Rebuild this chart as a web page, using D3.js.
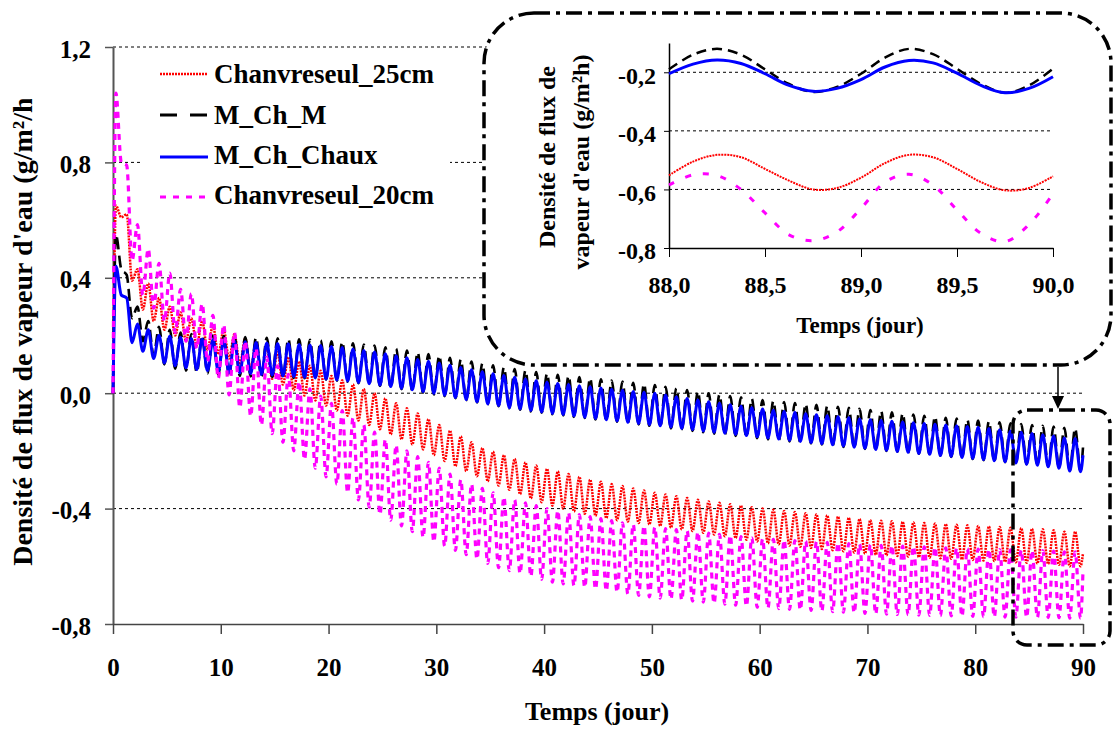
<!DOCTYPE html>
<html><head><meta charset="utf-8">
<script src="https://cdn.jsdelivr.net/npm/d3@7"></script>
<style>
body{margin:0;background:#fff}
svg{display:block}
</style>
</head><body>
<svg id="c" width="1113" height="729" font-family="'Liberation Serif', Tinos, 'Times New Roman', serif" font-weight="bold"></svg>
<script>
// ---------------- DATA ----------------
const seriesNames = ["Chanvreseul_25cm", "M_Ch_M", "M_Ch_Chaux", "Chanvreseul_20cm"];
const seriesColors = ["#ff0000", "#000000", "#0000ff", "#ff00ff"];
const dayIndex = d3.range(90);          // days 0..89
const peakPhase = 0.27, troughPhase = 0.77; // time of daily max / min within a day
const startValue = 0;

// Chanvreseul_25cm daily maxima / minima
const red25Peaks = [0.65,0.62,0.43,0.38,0.33,0.30,0.28,0.26,0.25,0.235,
 0.22,0.205,0.19,0.175,0.16,0.142,0.125,0.11,0.095,0.078,
 0.06,0.045,0.03,0.015,0.0,-0.018,-0.035,-0.052,-0.07,-0.09,
 -0.11,-0.13,-0.15,-0.17,-0.19,-0.203,-0.215,-0.228,-0.24,-0.251,
 -0.262,-0.271,-0.28,-0.29,-0.30,-0.307,-0.315,-0.322,-0.33,-0.337,
 -0.345,-0.351,-0.357,-0.363,-0.369,-0.375,-0.38,-0.385,-0.39,-0.395,
 -0.40,-0.404,-0.408,-0.412,-0.416,-0.42,-0.424,-0.428,-0.432,-0.436,
 -0.44,-0.442,-0.444,-0.446,-0.448,-0.45,-0.452,-0.454,-0.456,-0.458,
 -0.46,-0.462,-0.464,-0.466,-0.468,-0.47,-0.472,-0.475,-0.48,-0.48];
const red25Troughs = [0.61,0.39,0.29,0.25,0.22,0.20,0.18,0.165,0.15,0.135,
 0.12,0.10,0.085,0.068,0.05,0.03,0.01,-0.008,-0.025,-0.043,
 -0.06,-0.078,-0.095,-0.11,-0.125,-0.143,-0.16,-0.178,-0.195,-0.215,
 -0.235,-0.253,-0.27,-0.288,-0.305,-0.32,-0.335,-0.35,-0.365,-0.378,
 -0.39,-0.40,-0.41,-0.418,-0.425,-0.433,-0.44,-0.445,-0.45,-0.455,
 -0.46,-0.466,-0.472,-0.478,-0.484,-0.49,-0.496,-0.502,-0.508,-0.514,
 -0.52,-0.524,-0.528,-0.532,-0.536,-0.54,-0.544,-0.548,-0.552,-0.556,
 -0.56,-0.562,-0.564,-0.566,-0.568,-0.57,-0.572,-0.574,-0.576,-0.578,
 -0.58,-0.582,-0.584,-0.586,-0.588,-0.59,-0.592,-0.595,-0.60,-0.60];

// M_Ch_M
const mchmPeaks = [0.55,0.41,0.30,0.25,0.23,0.22,0.21,0.205,0.20,0.20,
 0.198,0.197,0.195,0.193,0.192,0.19,0.188,0.187,0.185,0.183,
 0.18,0.178,0.173,0.169,0.165,0.159,0.154,0.148,0.142,0.136,
 0.13,0.123,0.117,0.11,0.103,0.097,0.09,0.084,0.079,0.073,
 0.068,0.064,0.06,0.056,0.052,0.048,0.044,0.04,0.036,0.032,
 0.028,0.022,0.017,0.011,0.006,0.0,-0.005,-0.01,-0.014,-0.019,
 -0.024,-0.027,-0.031,-0.034,-0.037,-0.04,-0.044,-0.047,-0.051,-0.054,
 -0.058,-0.062,-0.066,-0.07,-0.074,-0.078,-0.081,-0.085,-0.088,-0.092,
 -0.095,-0.098,-0.101,-0.104,-0.107,-0.11,-0.113,-0.116,-0.12,-0.122];
const mchmTroughs = [0.43,0.26,0.18,0.13,0.10,0.085,0.078,0.072,0.068,0.065,
 0.062,0.06,0.058,0.057,0.056,0.055,0.053,0.052,0.05,0.047,
 0.043,0.04,0.035,0.03,0.025,0.019,0.014,0.008,0.002,-0.004,
 -0.01,-0.017,-0.025,-0.032,-0.039,-0.045,-0.052,-0.057,-0.063,-0.068,
 -0.073,-0.077,-0.082,-0.086,-0.091,-0.095,-0.099,-0.104,-0.108,-0.113,
 -0.117,-0.122,-0.126,-0.131,-0.135,-0.14,-0.144,-0.148,-0.152,-0.156,
 -0.16,-0.164,-0.167,-0.171,-0.174,-0.178,-0.182,-0.186,-0.189,-0.193,
 -0.197,-0.2,-0.203,-0.207,-0.21,-0.213,-0.217,-0.221,-0.224,-0.228,
 -0.232,-0.236,-0.239,-0.243,-0.246,-0.25,-0.254,-0.258,-0.268,-0.27];

// M_Ch_Chaux
const chauxPeaks = [0.44,0.33,0.24,0.22,0.20,0.197,0.194,0.19,0.188,0.185,
 0.183,0.18,0.178,0.176,0.174,0.172,0.171,0.169,0.167,0.165,
 0.162,0.158,0.153,0.148,0.143,0.137,0.130,0.123,0.117,0.111,
 0.105,0.097,0.089,0.081,0.074,0.067,0.061,0.055,0.049,0.043,
 0.038,0.034,0.030,0.026,0.022,0.018,0.014,0.010,0.006,0.003,
 0.0,-0.006,-0.012,-0.018,-0.024,-0.03,-0.035,-0.04,-0.045,-0.05,
 -0.055,-0.059,-0.063,-0.067,-0.071,-0.075,-0.078,-0.082,-0.085,-0.089,
 -0.092,-0.095,-0.097,-0.1,-0.102,-0.105,-0.108,-0.11,-0.113,-0.115,
 -0.118,-0.122,-0.127,-0.131,-0.135,-0.14,-0.144,-0.148,-0.155,-0.157];
const chauxTroughs = [0.34,0.175,0.145,0.12,0.105,0.095,0.088,0.082,0.078,0.075,
 0.072,0.07,0.068,0.065,0.063,0.06,0.058,0.055,0.053,0.049,
 0.046,0.042,0.037,0.033,0.028,0.023,0.017,0.012,0.006,0.0,
 -0.007,-0.015,-0.022,-0.03,-0.037,-0.043,-0.05,-0.055,-0.06,-0.065,
 -0.07,-0.074,-0.079,-0.083,-0.088,-0.092,-0.096,-0.101,-0.105,-0.109,
 -0.113,-0.117,-0.122,-0.126,-0.131,-0.135,-0.139,-0.143,-0.147,-0.151,
 -0.155,-0.159,-0.163,-0.167,-0.171,-0.175,-0.179,-0.183,-0.187,-0.191,
 -0.195,-0.198,-0.202,-0.205,-0.209,-0.212,-0.216,-0.219,-0.223,-0.226,
 -0.23,-0.234,-0.238,-0.242,-0.246,-0.25,-0.255,-0.26,-0.27,-0.272];

// Chanvreseul_20cm
const mag20Peaks = [1.04,0.79,0.584,0.50,0.45,0.416,0.36,0.345,0.31,0.27,
 0.237,0.21,0.18,0.155,0.125,0.095,0.065,0.04,0.015,-0.01,
 -0.035,-0.06,-0.085,-0.11,-0.135,-0.16,-0.18,-0.20,-0.22,-0.24,
 -0.26,-0.28,-0.30,-0.315,-0.33,-0.345,-0.36,-0.37,-0.38,-0.39,
 -0.40,-0.407,-0.414,-0.421,-0.428,-0.435,-0.442,-0.449,-0.455,-0.46,
 -0.465,-0.469,-0.473,-0.477,-0.481,-0.485,-0.489,-0.493,-0.497,-0.501,
 -0.505,-0.507,-0.509,-0.511,-0.513,-0.515,-0.517,-0.519,-0.521,-0.523,
 -0.525,-0.527,-0.528,-0.53,-0.531,-0.533,-0.534,-0.536,-0.537,-0.539,
 -0.54,-0.541,-0.542,-0.543,-0.544,-0.545,-0.546,-0.547,-0.55,-0.55];
const mag20Troughs = [0.80,0.46,0.34,0.295,0.25,0.21,0.18,0.155,0.11,0.052,
 -0.006,-0.05,-0.08,-0.11,-0.14,-0.17,-0.20,-0.23,-0.26,-0.29,
 -0.315,-0.345,-0.37,-0.395,-0.42,-0.44,-0.46,-0.48,-0.50,-0.515,
 -0.53,-0.545,-0.56,-0.575,-0.59,-0.605,-0.615,-0.625,-0.635,-0.645,
 -0.655,-0.661,-0.667,-0.673,-0.679,-0.685,-0.69,-0.696,-0.701,-0.706,
 -0.71,-0.714,-0.717,-0.721,-0.724,-0.728,-0.731,-0.735,-0.738,-0.742,
 -0.745,-0.747,-0.749,-0.751,-0.753,-0.755,-0.757,-0.759,-0.761,-0.763,
 -0.765,-0.766,-0.767,-0.768,-0.769,-0.77,-0.771,-0.772,-0.773,-0.774,
 -0.775,-0.775,-0.776,-0.776,-0.777,-0.777,-0.778,-0.778,-0.78,-0.78];

const endValues = [-0.555, -0.188, -0.215, -0.615]; // value at day 90

// Inset (zoom on days 88-90)
const insetTimes = [88,88.125,88.25,88.375,88.5,88.625,88.75,88.875,89,89.125,89.25,89.375,89.5,89.625,89.75,89.875,90];
const insetRed25 = [-0.552,-0.505,-0.482,-0.49,-0.53,-0.57,-0.6,-0.595,-0.56,-0.51,-0.482,-0.49,-0.53,-0.575,-0.603,-0.595,-0.555];
const insetMChM = [-0.19,-0.14,-0.12,-0.14,-0.19,-0.24,-0.267,-0.25,-0.205,-0.15,-0.12,-0.138,-0.188,-0.24,-0.27,-0.245,-0.188];
const insetChaux = [-0.205,-0.172,-0.158,-0.17,-0.205,-0.245,-0.265,-0.255,-0.225,-0.182,-0.16,-0.168,-0.203,-0.245,-0.27,-0.255,-0.215];
const insetMag20 = [-0.585,-0.55,-0.552,-0.6,-0.68,-0.755,-0.775,-0.745,-0.665,-0.575,-0.548,-0.585,-0.67,-0.75,-0.778,-0.72,-0.615];

const yTicks = [-0.8, -0.4, 0, 0.4, 0.8, 1.2];
const gridValues = [-0.4, 0, 0.4, 0.8, 1.2];
const xTicks = [0,10,20,30,40,50,60,70,80,90];
const insetXTicks = [88, 88.5, 89, 89.5, 90];
const insetYTicks = [-0.8, -0.6, -0.4, -0.2];
const insetGrid = [-0.6, -0.4, -0.2];

const yTitle = "Densité de flux de vapeur d'eau (g/m²/h)";
const xTitle = "Temps (jour)";
const insetYTitle = ["Densité de flux de", "vapeur d'eau (g/m²h)"];

// ---------------- DRAW ----------------
const FONT = "'Liberation Serif', Tinos, 'Times New Roman', serif";
const svg = d3.select("#c");
const fmt = v => (v < 0 ? "-" : "") + Math.abs(v).toFixed(1).replace(".", ",");

const x = d3.scaleLinear().domain([0, 90]).range([113, 1083]);
const y = d3.scaleLinear().domain([-0.8, 1.2]).range([624, 47]);

// gridlines
svg.append("g").selectAll("line").data(gridValues).join("line")
  .attr("x1", x(0)).attr("x2", x(90))
  .attr("y1", d => y(d)).attr("y2", d => y(d))
  .attr("stroke", "#000").attr("stroke-width", 1).attr("stroke-dasharray", "3,3");

// legend background (hides gridline)
svg.append("rect").attr("x", 142).attr("y", 55).attr("width", 308).attr("height", 160).attr("fill", "#fff");

// axes
const yAxis = svg.append("g").attr("transform", `translate(${x(0)},0)`)
  .call(d3.axisLeft(y).tickValues(yTicks).tickSize(8).tickSizeOuter(0).tickPadding(14).tickFormat(fmt));
yAxis.select(".domain").attr("stroke", "#555").attr("stroke-width", 2);
yAxis.selectAll(".tick line").attr("stroke", "#555").attr("stroke-width", 1.5);
yAxis.selectAll("text").attr("font-size", 25).attr("font-family", FONT).attr("font-weight", "bold").attr("dy", "0.4em");

const xAxis = svg.append("g").attr("transform", `translate(0,${y(-0.8)})`)
  .call(d3.axisBottom(x).tickValues(xTicks).tickSize(10).tickSizeOuter(0).tickFormat(d3.format("d")));
xAxis.select(".domain").attr("stroke", "#444").attr("stroke-width", 1.5);
xAxis.selectAll(".tick line").attr("stroke", "#444").attr("stroke-width", 1.5);
xAxis.selectAll("text").attr("font-size", 25).attr("font-family", FONT).attr("font-weight", "bold").attr("dy", null).attr("y", 52);

// titles
svg.append("clipPath").attr("id", "ytclip").append("rect").attr("x", 0).attr("y", 99).attr("width", 60).attr("height", 600);
svg.append("g").attr("clip-path", "url(#ytclip)")
  .append("text").attr("transform", `translate(32,327) rotate(-90)`).attr("text-anchor", "middle")
  .attr("font-family", FONT).attr("font-size", 28).text(yTitle);
svg.append("text").attr("x", 597).attr("y", 720).attr("text-anchor", "middle")
  .attr("font-family", FONT).attr("font-size", 26).text(xTitle);

// series
const styles = [
  {w: 2.5, dash: "2,1"},
  {w: 2.6, dash: "12,6"},
  {w: 3, dash: null},
  {w: 3.2, dash: "6,5"}
];
const peaksList = [red25Peaks, mchmPeaks, chauxPeaks, mag20Peaks];
const troughsList = [red25Troughs, mchmTroughs, chauxTroughs, mag20Troughs];
function buildSeries(i) {
  const pts = [[0, startValue]];
  dayIndex.forEach(d => {
    pts.push([d + peakPhase, peaksList[i][d]]);
    pts.push([d + troughPhase, troughsList[i][d]]);
  });
  pts.push([90, endValues[i]]);
  return pts;
}
const line = d3.line().x(d => x(d[0])).y(d => y(d[1])).curve(d3.curveMonotoneX);
const dataG = svg.append("g").attr("fill", "none");
seriesNames.forEach((n, i) => {
  dataG.append("path").datum(buildSeries(i)).attr("d", line)
    .attr("stroke", seriesColors[i]).attr("stroke-width", styles[i].w)
    .attr("stroke-dasharray", styles[i].dash);
});

// legend
const legY = [74, 115, 157, 197];
const legTextY = [83, 124, 164, 204];
const lg = svg.append("g");
seriesNames.forEach((n, i) => {
  lg.append("line").attr("x1", 160).attr("x2", 208).attr("y1", legY[i]).attr("y2", legY[i])
    .attr("stroke", seriesColors[i]).attr("stroke-width", i === 0 ? 2.5 : 3)
    .attr("stroke-dasharray", i === 1 ? "17,13" : i === 3 ? "6,7" : i === 0 ? "2,1" : null);
  lg.append("text").attr("x", 214).attr("y", legTextY[i]).attr("font-family", FONT).attr("font-size", 27).text(n);
});

// zoom box + arrow
const dashDot = "16,6,4,6";
svg.append("rect").attr("x", 1013).attr("y", 410).attr("width", 97).attr("height", 235).attr("rx", 14)
  .attr("fill", "none").attr("stroke", "#000").attr("stroke-width", 3.5).attr("stroke-dasharray", dashDot);

// inset frame
svg.append("rect").attr("x", 484).attr("y", 13).attr("width", 627).attr("height", 352).attr("rx", 50)
  .attr("fill", "#fff").attr("stroke", "#000").attr("stroke-width", 3.5).attr("stroke-dasharray", dashDot);

svg.append("line").attr("x1", 1058).attr("x2", 1058).attr("y1", 367).attr("y2", 398)
  .attr("stroke", "#000").attr("stroke-width", 1.5);
svg.append("path").attr("d", "M1052,396 L1064,396 L1058,409 Z").attr("fill", "#000");

// inset chart
const ix = d3.scaleLinear().domain([88, 90]).range([669, 1053]);
const iy = d3.scaleLinear().domain([-0.8, -0.1]).range([248, 43]);
const ig = svg.append("g");
ig.selectAll("line.g").data(insetGrid).join("line").attr("class", "g")
  .attr("x1", ix(88)).attr("x2", ix(90)).attr("y1", d => iy(d)).attr("y2", d => iy(d))
  .attr("stroke", "#000").attr("stroke-width", 1).attr("stroke-dasharray", "3,3");

const iyAxis = ig.append("g").attr("transform", `translate(${ix(88)},0)`)
  .call(d3.axisLeft(iy).tickValues(insetYTicks).tickSize(5).tickSizeOuter(0).tickPadding(8).tickFormat(fmt));
iyAxis.select(".domain").attr("stroke", "#000").attr("stroke-width", 1.5);
iyAxis.selectAll("text").attr("font-size", 24).attr("font-family", FONT).attr("font-weight", "bold").attr("dy", "0.45em");
const ixAxis = ig.append("g").attr("transform", `translate(0,${iy(-0.8)})`)
  .call(d3.axisBottom(ix).tickValues(insetXTicks).tickSize(9).tickSizeOuter(0).tickFormat(v => v.toFixed(1).replace(".", ",")));
ixAxis.select(".domain").attr("stroke", "#000").attr("stroke-width", 1.5);
ixAxis.selectAll("text").attr("font-size", 24).attr("font-family", FONT).attr("font-weight", "bold").attr("dy", null).attr("y", 45);

const insetData = [insetRed25, insetMChM, insetChaux, insetMag20];
const iline = d3.line().x(d => ix(d[0])).y(d => iy(d[1])).curve(d3.curveCatmullRom);
const insetDash = ["2,1", "10,6", null, "6,12"];
const insetW = [2, 2.5, 3, 3];
insetData.forEach((arr, i) => {
  ig.append("path").datum(insetTimes.map((t, k) => [t, arr[k]])).attr("d", iline)
    .attr("fill", "none").attr("stroke", seriesColors[i]).attr("stroke-width", insetW[i])
    .attr("stroke-dasharray", insetDash[i]);
});

ig.append("text").attr("transform", "translate(555,157) rotate(-90)").attr("text-anchor", "middle")
  .attr("font-family", FONT).attr("font-size", 24).text(insetYTitle[0]);
ig.append("text").attr("transform", "translate(589,162) rotate(-90)").attr("text-anchor", "middle")
  .attr("font-family", FONT).attr("font-size", 24).text(insetYTitle[1]);
ig.append("text").attr("x", 860).attr("y", 333).attr("text-anchor", "middle")
  .attr("font-family", FONT).attr("font-size", 23).text(xTitle);
</script>
</body></html>
